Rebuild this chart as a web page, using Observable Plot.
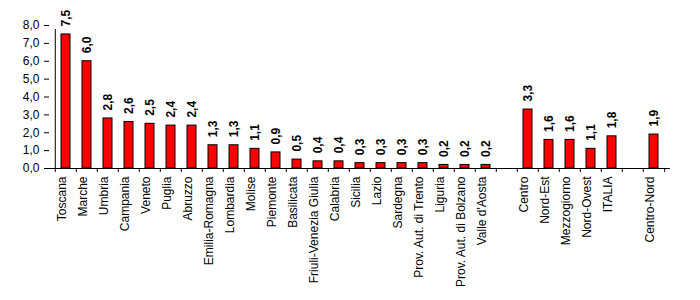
<!DOCTYPE html>
<html>
<head>
<meta charset="utf-8">
<script src="https://cdn.jsdelivr.net/npm/d3@7"></script>
<script src="https://cdn.jsdelivr.net/npm/@observablehq/plot@0.6"></script>
<style>
  html, body { margin: 0; padding: 0; background: #fff; }
  #chart svg { font-family: Arial, "Liberation Sans", sans-serif; }
</style>
</head>
<body>
<div id="chart"></div>
<script>
// Categories (blank slots keep the gaps between groups)
const categories = [
  "Toscana", "Marche", "Umbria", "Campania", "Veneto", "Puglia", "Abruzzo",
  "Emilia-Romagna", "Lombardia", "Molise", "Piemonte", "Basilicata",
  "Friuli-Venezia Giulia", "Calabria", "Sicilia", "Lazio", "Sardegna",
  "Prov. Aut. di Trento", "Liguria", "Prov. Aut. di Bolzano", "Valle d'Aosta",
  "gap1",
  "Centro", "Nord-Est", "Mezzogiorno", "Nord-Ovest", "ITALIA",
  "gap2",
  "Centro-Nord"
];
const values = [
  7.5, 6.0, 2.8, 2.6, 2.5, 2.4, 2.4,
  1.3, 1.3, 1.1, 0.9, 0.5,
  0.4, 0.4, 0.3, 0.3, 0.3,
  0.3, 0.2, 0.2, 0.2,
  null,
  3.3, 1.6, 1.6, 1.1, 1.8,
  null,
  1.9
];
const yTicks = [0, 1, 2, 3, 4, 5, 6, 7, 8];

const W = 700, H = 300;
const mL = 49, mR = 30, mT = 25, mB = 132;
const bw = (W - mL - mR) / categories.length;

const data = categories.map((c, i) => ({cat: c, value: values[i]}));
const bars = data.filter(d => d.value != null);
const fmt = v => d3.format(".1f")(v).replace(".", ",");
const isGap = c => c.startsWith("gap");
const labelCats = categories.filter(c => !isGap(c));
const FONT = "Arial, 'Liberation Sans', sans-serif";

const chart = Plot.plot({
  width: W,
  height: H,
  marginTop: mT,
  marginBottom: mB,
  marginLeft: mL,
  marginRight: mR,
  style: {fontFamily: FONT, fontSize: "12px", color: "#000", background: "#fff"},
  x: {domain: categories, padding: 0, axis: null},
  y: {domain: [0, 8], axis: null},
  marks: [
    Plot.barY(bars, {x: "cat", y: "value", fill: "#ff0000", stroke: "#000", strokeWidth: 1, insetLeft: 6, insetRight: 6}),
    Plot.ruleY([0], {stroke: "#000", strokeWidth: 1}),
    // y axis line
    Plot.ruleX([categories[0]], {x: d => d, y1: 0, y2: 8, dx: -bw / 2, stroke: "#000", insetBottom: -4}),
    // category boundary ticks
    Plot.ruleX(categories, {x: d => d, y1: 0, y2: 0, dx: -bw / 2, stroke: "#000", insetBottom: -4}),
    Plot.ruleX([categories[categories.length - 1]], {x: d => d, y1: 0, y2: 0, dx: bw / 2, stroke: "#000", insetBottom: -4}),
    // y tick marks
    Plot.axisY({ticks: yTicks, tickSize: 5, tickFormat: () => "", label: null}),
    // y tick labels
    Plot.text(yTicks, {y: d => d, frameAnchor: "left", text: d => fmt(d), textAnchor: "end", dx: -10,
                       fontSize: 12, fontFamily: FONT, fill: "#000"}),
    // category labels
    Plot.text(labelCats, {x: d => d, frameAnchor: "bottom", text: d => d, rotate: -90, textAnchor: "end",
                          dy: 8, fontSize: 12, fontFamily: FONT, fill: "#000"}),
    // value labels
    Plot.text(bars, {x: "cat", y: "value", text: d => fmt(d.value), rotate: -90, textAnchor: "start",
                     dy: -8, fontSize: 12, fontWeight: "bold", fontFamily: FONT, fill: "#000"})
  ]
});
document.getElementById("chart").appendChild(chart);
</script>
</body>
</html>
